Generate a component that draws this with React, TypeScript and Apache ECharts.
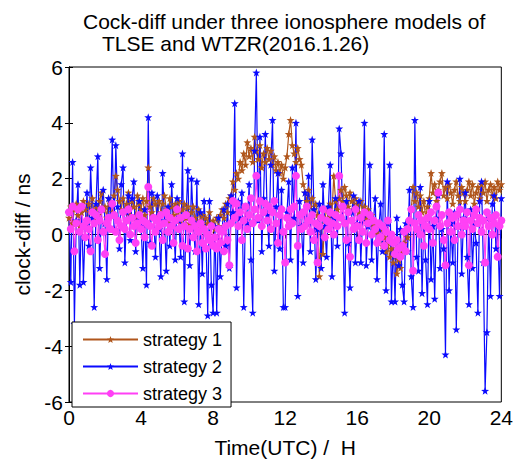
import React, { useEffect, useRef } from "react";
import * as echarts from "echarts";

// sampling step: 0.1 h (6 min), 0 .. 24 h
const STEP_H = 0.1;

const strategy1: number[] = [
  0.6, 1.0, 0.4, 0.9, 1.1, 0.7, 0.3, 0.8, 1.2, 0.9,
  0.5, 1.1, 0.8, 1.3, 0.6, 1.0, 0.7, 1.2, 1.5, 0.9,
  1.0, 0.6, 1.3, 1.1, 0.8, 1.4, 2.1, 1.6, 1.2, 0.9,
  1.3, 0.8, 1.1, 1.5, 0.7, 1.2, 1.0, 0.6, 1.4, 1.1,
  0.9, 1.3, 0.7, 1.2, 2.4, 1.0, 0.8, 1.3, 1.1, 0.6,
  1.2, 0.8, 1.1, 1.4, 0.9, 0.5, 1.3, 1.0, 0.7, 1.1,
  0.8, 1.2, 0.5, 0.9, 1.1, 0.6, 1.0, 0.4, 0.8, 1.0,
  0.6, 0.3, 0.9, 0.5, 0.7, 0.2, 0.6, 0.4, 0.8, 0.3,
  0.5, 0.2, 0.6, 0.3, 0.7, 0.9, 0.6, 1.1, 0.8, 1.3,
  1.4, 1.9, 1.6, 2.2, 2.0, 2.6, 2.3, 2.9, 2.5, 3.3,
  2.8, 3.1, 2.6, 3.5, 3.0, 2.7, 3.2, 2.4, 2.9, 2.6,
  3.1, 2.7, 3.0, 2.5, 2.8, 2.3, 2.6, 2.2, 2.5, 2.0,
  2.4, 2.8, 3.6, 4.1, 3.2, 2.9, 2.6, 3.1, 2.7, 2.5,
  1.8, 1.5, 1.2, 1.6, 1.0, 1.3, 0.9, 1.1, 0.7, -1.5,
  0.3, -0.7, 0.5, 0.9, 0.6, 1.1, 0.8, 2.1, 1.2, 0.9,
  1.3, 1.6, 1.2, 1.7, 1.4, 1.0, 1.5, 1.2, 0.9, 1.3,
  1.1, 0.8, 1.2, 0.7, 1.0, 0.6, 0.9, 0.5, 0.7, 0.3,
  0.4, 0.1, -0.2, 0.2, -0.4, -0.1, -0.6, -0.3, -0.8, -0.5,
  -1.0, -0.7, -1.4, -0.9, -1.2, -0.6, -0.3, 0.2, -0.1, 0.5,
  0.9, 1.7, 1.2, 1.5, 1.0, 1.4, 0.8, 1.2, 0.6, 1.0,
  1.3, 2.2, 1.5, 1.8, 1.2, 1.6, 1.9, 2.2, 1.4, 1.7,
  1.3, 1.8, 1.5, 1.1, 1.6, 1.9, 1.4, 1.2, 1.7, 1.5,
  1.2, 1.6, 1.9, 1.4, 1.8, 1.1, 1.5, 1.7, 1.3, 1.8,
  1.5, 1.9, 1.2, 1.6, 1.8, 1.4, 1.7, 1.3, 1.9, 1.6,
  1.8,
];

const strategy2: number[] = [
  0.8, -1.7, 2.6, -3.2, 0.5, 1.8, -1.8, 1.0, -1.7, 0.3,
  1.5, -0.4, 2.4, 0.6, -2.6, 1.1, 2.8, -1.2, 0.9, 1.6,
  0.4, -1.6, 1.3, 0.7, 3.4, 0.2, 3.2, 1.0, -0.5, 1.8,
  2.4, -1.0, 0.8, 1.4, -0.2, 1.3, 1.9, -0.6, 0.5, 1.2,
  0.3, -1.2, 0.9, -1.8, 4.2, -0.3, 1.5, 0.6, -0.8, 1.4,
  0.2, -1.5, 2.2, 0.5, -1.3, 1.0, -0.4, 1.8, 0.4, -0.9,
  1.3, 0.5, -0.8, 2.9, -2.4, 0.7, 2.3, -1.1, 2.0, 0.4,
  -0.6, 1.9, -2.5, 0.8, -1.4, 1.2, 0.1, -2.9, 1.2, -1.8,
  -2.8, 0.3, -2.8, 0.6, -1.5, 0.2, 0.9, -0.4, 1.1, -1.2,
  1.4, 0.8, 4.7, -1.9, 1.2, 0.6, 1.5, -2.6, 1.0, 0.4,
  1.8, -0.9, -2.8, 3.0, 5.8, 0.5, 3.5, -0.6, 1.3, 3.6,
  0.7, -0.4, 2.5, 4.1, -1.3, 1.0, 2.2, -0.5, 1.6, -2.6,
  -2.6, 0.8, 1.9, -0.9, 2.4, 0.6, 4.0, -2.2, 1.2, 0.3,
  -1.0, 1.5, 0.4, 2.1, -0.6, 3.4, 0.9, -1.6, 0.2, 1.1,
  -1.2, 1.8, 0.3, -0.8, 1.0, 2.5, -1.5, 0.6, 1.3, -0.4,
  3.8, 2.9, 0.5, -2.8, 1.2, -0.3, -1.9, 0.8, 1.4, -1.0,
  0.4, 1.2, -1.0, 0.6, 4.0, -1.1, 0.3, 2.5, -0.9, 0.5,
  1.3, -1.6, 0.2, 1.1, -0.6, 3.6, -2.0, 0.4, 2.5, -2.4,
  -0.3, -2.4, 0.6, -1.1, 0.2, -1.8, -2.4, 0.4, -0.6, 1.6,
  -1.5, -2.6, 4.1, -0.8, -1.3, 1.7, -2.1, 0.5, -0.9, -2.5,
  1.2, -1.6, 0.3, -2.3, 0.6, 1.4, -1.2, 0.2, -0.5, -4.3,
  1.9, -2.0, 0.4, -1.0, 0.8, -3.4, 0.3, 2.0, -1.4, 0.6,
  1.5, -0.8, -2.5, 0.9, -1.2, 0.4, -0.3, -2.8, 1.2, 1.9,
  -1.0, -5.6, -3.5, 0.6, -2.2, 1.1, 1.4, -0.5, 0.3, -2.2,
  1.3,
];

const strategy3: number[] = [
  0.8, 0.2, 1.0, -0.6, 0.4, 0.9, 0.1, 1.0, 0.3, -0.1,
  0.5, 0.2, -0.6, 0.8, 0.4, 0.7, -0.2, 0.5, 0.9, 0.1,
  -0.7, 0.4, 0.6, 0.2, 1.1, 0.7, 0.1, 0.5, -0.2, 0.3,
  0.8, 0.2, 0.5, 0.9, 0.0, 0.6, 0.3, -0.3, 0.4, 0.7,
  0.2, 0.5, -0.1, 0.4, 1.7, 0.3, -0.4, 0.6, 0.1, 0.5,
  0.3, 0.7, -0.2, 0.4, 0.8, 0.1, 0.6, 0.3, -0.3, 0.5,
  0.9, 0.2, 0.6, -0.4, 0.3, 0.7, -0.5, 0.2, 0.5, -0.1,
  0.3, -0.6, 0.1, 0.4, -0.3, 0.2, -0.5, 0.0, -0.2, 0.3,
  -0.4, -0.1, -0.5, 0.2, -0.3, 0.1, -0.6, 0.3, -0.2, -1.1,
  0.4, 1.2, 0.6, 1.1, 0.3, 0.8, -0.2, 0.5, 1.0, 0.2,
  0.7, 1.3, 0.4, 0.9, 2.1, 0.6, 1.2, 0.3, 0.8, 1.1,
  0.5, 1.0, 0.2, 0.8, 1.2, 0.4, -0.3, 0.7, 0.9, 0.1,
  -1.0, 0.6, 0.3, 0.9, 0.4, 1.0, 2.1, -0.4, 0.7, 0.2,
  0.8, 0.3, 1.0, 0.5, 0.1, 0.7, -0.2, 0.4, -1.0, 0.3,
  0.6, 0.9, -0.1, 0.5, 0.2, 0.8, 0.4, 0.0, 0.7, 0.3,
  2.1, 0.6, 1.0, 0.4, -0.2, 0.8, -0.8, 0.5, 0.2, 0.9,
  0.3, -0.2, 0.6, 0.1, 0.8, -0.3, 0.4, 0.7, 0.0, 0.5,
  0.2, -0.3, 0.4, -0.1, 0.3, -0.4, 0.1, 0.5, -0.2, 0.0,
  -0.3, -0.7, -0.2, -0.5, -0.8, -0.4, 0.1, -0.6, 0.2, 0.5,
  0.9, -1.3, 0.4, 0.2, 0.7, 0.0, 0.5, -0.4, 0.3, 0.6,
  0.2, 0.8, -0.3, 0.5, 1.0, 1.5, 0.3, 0.7, -0.2, -1.1,
  0.4, 0.8, 0.1, 0.6, -0.2, 0.7, 0.3, 0.9, 0.0, 0.5,
  0.3, 0.8, -1.1, 0.5, 0.2, 0.7, 0.9, 0.4, 0.6, 0.1,
  0.5, -1.0, 0.8, 0.3, 0.6, 0.0, 0.4, 0.7, -0.8, 0.3,
  0.5,
];

const seriesNames = ["strategy 1", "strategy 2", "strategy 3"];
const xTicks = [0, 4, 8, 12, 16, 20, 24];
const yTicks = [-6, -4, -2, 0, 2, 4, 6];
const titleLines = ["Cock-diff under three ionosphere models of", "TLSE and WTZR(2016.1.26)"];

const FONT = "'Liberation Sans', Arial, Helvetica, sans-serif";
const STAR =
  "path://M0,-10 L2.35,-3.24 L9.51,-3.09 L3.8,1.24 L5.88,8.09 L0,4 L-5.88,8.09 L-3.8,1.24 L-9.51,-3.09 L-2.35,-3.24 Z";

const toPairs = (vals: number[]) => vals.map((v, i) => [Math.round(i * STEP_H * 10) / 10, v]);

export default function App() {
  const ref = useRef<HTMLDivElement>(null);
  useEffect(() => {
    if (!ref.current) return;
    const chart = echarts.init(ref.current, undefined, { renderer: "svg" });
    const axisCommon = {
      axisLine: { show: true, lineStyle: { color: "#000", width: 1 } },
      axisTick: { show: true, inside: true, length: 4, lineStyle: { color: "#000" } },
      splitLine: { show: false },
    };
    chart.setOption({
      animation: false,
      backgroundColor: "#fff",
      grid: { left: 69, right: 14, top: 67, bottom: 59, show: true, borderColor: "#000", borderWidth: 1, backgroundColor: "transparent" },
      graphic: [
        { type: "text", left: 83, top: 11, style: { text: titleLines[0], font: `21px ${FONT}`, fill: "#000" } },
        { type: "text", left: 102, top: 33, style: { text: titleLines[1], font: `21px ${FONT}`, fill: "#000" } },
      ],
      legend: {
        orient: "vertical",
        left: 72,
        top: 322,
        padding: [8, 9, 4, 10],
        itemWidth: 55,
        itemHeight: 9,
        itemGap: 8,
        backgroundColor: "#fff",
        borderColor: "#000",
        borderWidth: 1,
        borderRadius: 0,
        textStyle: { fontFamily: FONT, fontSize: 18, color: "#000", lineHeight: 19 },
        data: seriesNames,
      },
      xAxis: [
        {
          type: "value",
          min: 0,
          max: 24,
          interval: 4,
          position: "bottom",
          name: "Time(UTC) /  H",
          nameLocation: "middle",
          nameGap: 35,
          nameTextStyle: { fontFamily: FONT, fontSize: 21, color: "#000" },
          axisLabel: { fontFamily: FONT, fontSize: 21, color: "#000", margin: 5, formatter: (v: number) => (xTicks.includes(v) ? String(v) : "") },
          ...axisCommon,
        },
        {
          type: "value",
          min: 0,
          max: 24,
          interval: 4,
          position: "top",
          axisLabel: { show: false },
          ...axisCommon,
        },
      ],
      yAxis: [
        {
          type: "value",
          min: -6,
          max: 6,
          interval: 2,
          position: "left",
          name: "clock-diff / ns",
          nameLocation: "middle",
          nameGap: 32,
          nameTextStyle: { fontFamily: FONT, fontSize: 21, color: "#000" },
          axisLabel: { fontFamily: FONT, fontSize: 21, color: "#000", margin: 6, formatter: (v: number) => (yTicks.includes(v) ? String(v) : "") },
          ...axisCommon,
        },
        {
          type: "value",
          min: -6,
          max: 6,
          interval: 2,
          position: "right",
          axisLabel: { show: false },
          ...axisCommon,
        },
      ],
      series: [
        {
          name: seriesNames[0],
          type: "line",
          data: toPairs(strategy1),
          symbol: STAR,
          symbolSize: 8,
          lineStyle: { color: "#B0561C", width: 1.2 },
          itemStyle: { color: "#B0561C" },
          clip: true,
        },
        {
          name: seriesNames[1],
          type: "line",
          data: toPairs(strategy2),
          symbol: STAR,
          symbolSize: 8,
          lineStyle: { color: "#0A0AFF", width: 1.2 },
          itemStyle: { color: "#0A0AFF" },
          clip: true,
        },
        {
          name: seriesNames[2],
          type: "line",
          data: toPairs(strategy3),
          symbol: "circle",
          symbolSize: 8,
          lineStyle: { color: "#FF40F5", width: 1.2 },
          itemStyle: { color: "#FF40F5" },
          clip: true,
        },
      ],
    });
    return () => chart.dispose();
  }, []);
  return <div ref={ref} style={{ position: "fixed", left: 0, top: 0, width: 516, height: 463 }} />;
}
